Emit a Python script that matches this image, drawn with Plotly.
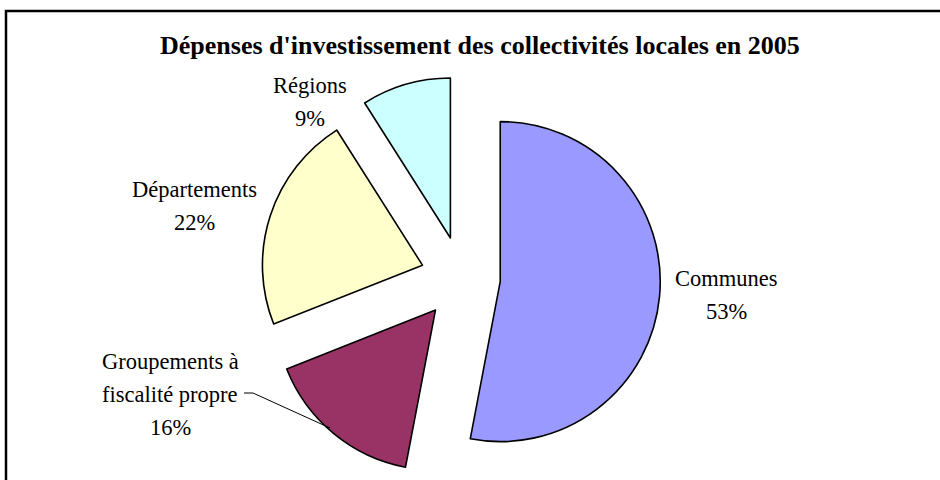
import plotly.graph_objects as go

# Data
labels = ["Communes", "Groupements à fiscalité propre", "Départements", "Régions"]
label_lines = [["Communes"], ["Groupements à", "fiscalité propre"], ["Départements"], ["Régions"]]
values = [53, 16, 22, 9]
title_text = "Dépenses d'investissement des collectivités locales en 2005"

# Styles
colors = ["#9999FF", "#993366", "#FFFFCC", "#CCFFFF"]
pulls = [0.24, 0.26, 0.26, 0.26]
W, H = 940, 480
FONT = "Liberation Serif, Times New Roman, serif"

def px(x):
    return x / W

def py(y):
    return 1 - y / H

# pie box geometry (pixels)
cx, cy, half = 462, 278, 201.6

fig = go.Figure()
fig.add_trace(go.Pie(
    labels=labels, values=values, sort=False, direction="clockwise", rotation=0,
    pull=pulls, textinfo="none", hoverinfo="label+percent",
    marker=dict(colors=colors, line=dict(color="black", width=1.6)),
    domain=dict(x=[px(cx - half), px(cx + half)], y=[py(cy + half), py(cy - half)]),
    showlegend=False,
))

# label positions (center x, first line y) and line spacing
label_pos = [(726, 278), (170, 361), (194, 189), (310, 85)]
line_gap = 33
annotations = []
for lines, v, (lx, ly) in zip(label_lines, values, label_pos):
    all_lines = lines + [f"{v}%"]
    for i, t in enumerate(all_lines):
        annotations.append(dict(
            x=px(lx), y=py(ly + i * line_gap), xref="paper", yref="paper",
            text=t, showarrow=False, xanchor="center", yanchor="middle",
            font=dict(family=FONT, size=22.5, color="black"),
        ))

annotations.append(dict(
    x=px(480), y=py(45), xref="paper", yref="paper", text=f"<b>{title_text}</b>",
    showarrow=False, xanchor="center", yanchor="middle",
    font=dict(family=FONT, size=26, color="black"),
))

shapes = [
    dict(type="rect", xref="paper", yref="paper", x0=px(6), y0=py(11), x1=1.05, y1=-0.05,
         line=dict(color="black", width=2.5), fillcolor="rgba(0,0,0,0)", layer="above"),
    dict(type="path", xref="paper", yref="paper",
         path=f"M {px(244)} {py(393)} L {px(253)} {py(393)} L {px(330)} {py(428)}",
         line=dict(color="black", width=1)),
]

fig.update_layout(
    width=W, height=H, margin=dict(l=0, r=0, t=0, b=0),
    paper_bgcolor="white", plot_bgcolor="white",
    annotations=annotations, shapes=shapes,
)
fig.write_html(
    "out.html",
    config={"displayModeBar": False},
    post_script="document.body.style.margin='0';document.body.style.overflow='hidden';",
)
